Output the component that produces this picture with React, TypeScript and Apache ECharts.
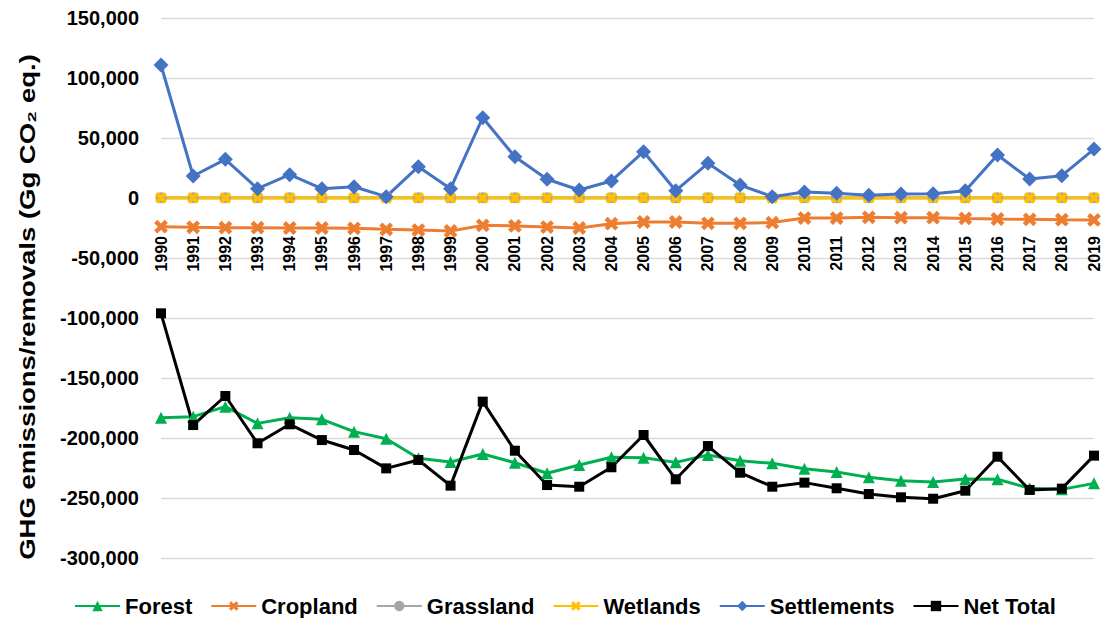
import React, { useEffect, useRef } from "react";
import * as echarts from "echarts";

const years: string[] = [
  "1990", "1991", "1992", "1993", "1994", "1995", "1996", "1997", "1998", "1999",
  "2000", "2001", "2002", "2003", "2004", "2005", "2006", "2007", "2008", "2009",
  "2010", "2011", "2012", "2013", "2014", "2015", "2016", "2017", "2018", "2019",
];

const forest: number[] = [
  -183100, -182200, -173900, -187800, -183100, -184400, -194700, -200600, -216900, -220000,
  -213300, -220600, -229400, -222500, -216100, -216400, -220300, -214200, -218900, -221100,
  -225600, -228300, -232800, -235600, -236700, -234200, -234400, -241900, -242800, -237800,
];

const cropland: number[] = [
  -23900, -24400, -24700, -24700, -25000, -25000, -25300, -26100, -26700, -27500,
  -22800, -23300, -24200, -25000, -21400, -20000, -20000, -21100, -21100, -20500,
  -16700, -16700, -16100, -16400, -16400, -17000, -17500, -17800, -18100, -18300,
];

const grassland: number[] = [
  300, 300, 300, 300, 300, 300, 300, 300, 300, 300,
  300, 300, 300, 300, 300, 300, 300, 300, 300, 300,
  300, 300, 300, 300, 300, 300, 300, 300, 300, 300,
];

const wetlands: number[] = [
  100, 100, 100, 100, 100, 100, 100, 100, 100, 100,
  100, 100, 100, 100, 100, 100, 100, 100, 100, 100,
  100, 100, 100, 100, 100, 100, 100, 100, 100, 100,
];

const settlements: number[] = [
  110800, 18300, 32200, 7800, 19400, 7800, 9400, 1100, 26100, 7800,
  66900, 34400, 15600, 6700, 14200, 38600, 6100, 28900, 10800, 1100,
  5000, 3900, 2200, 3300, 3600, 6100, 35800, 15800, 18600, 40800,
];

const netTotal: number[] = [
  -96100, -189200, -165000, -204400, -188600, -201700, -210000, -225300, -218300, -239700,
  -169700, -210600, -239200, -240600, -224400, -197500, -234400, -206700, -228900, -240600,
  -237200, -241900, -246700, -249400, -250600, -243900, -215600, -243300, -242200, -214700,
];

const yTitle = "GHG emissions/removals (Gg CO\u2082 eq.)";

const FONT = "'Liberation Sans', Arial, sans-serif";
const CROSS = "path://M3.5,0 L6.5,0 L6.5,3.5 L10,3.5 L10,6.5 L6.5,6.5 L6.5,10 L3.5,10 L3.5,6.5 L0,6.5 L0,3.5 L3.5,3.5 Z";

export default function App() {
  const ref = useRef<HTMLDivElement>(null);

  useEffect(() => {
    if (!ref.current) return;
    const chart = echarts.init(ref.current, undefined, { renderer: "svg" });
    const mk = (name: string, data: number[], color: string, symbol: string, symbolSize: number, extra: any = {}) => ({
      name,
      type: "line",
      data,
      symbol,
      symbolSize,
      showSymbol: true,
      lineStyle: { color, width: 3 },
      itemStyle: { color },
      z: 2,
      ...extra,
    });
    chart.setOption({
      animation: false,
      backgroundColor: "#ffffff",
      textStyle: { fontFamily: FONT },
      grid: { left: 161, right: 18, top: 18, bottom: 60, containLabel: false, outerBoundsMode: "none" },
      legend: {
        left: 69,
        top: 590,
        itemWidth: 45,
        itemHeight: 13,
        itemGap: 18,
        textStyle: { fontFamily: FONT, fontWeight: "bold", fontSize: 22, color: "#000" },
        data: ["Forest", "Cropland", "Grassland", "Wetlands", "Settlements", "Net Total"],
      },
      graphic: [
        {
          type: "text",
          x: 27,
          y: 307,
          rotation: Math.PI / 2,
          scaleX: 1.25,
          style: {
            text: yTitle,
            font: "bold 22px 'Liberation Sans', Arial, sans-serif",
            textAlign: "center",
            textVerticalAlign: "middle",
            fill: "#000",
          },
        },
      ],
      xAxis: {
        type: "category",
        data: years,
        boundaryGap: false,
        position: "bottom",
        offset: -360,
        axisLine: { show: false, onZero: false },
        axisTick: { show: false },
        axisLabel: {
          rotate: 90,
          margin: 38,
          interval: 0,
          fontFamily: FONT,
          fontWeight: "bold",
          fontSize: 16,
          color: "#000",
        },
        splitLine: { show: false },
      },
      yAxis: {
        type: "value",
        min: -300000,
        max: 150000,
        interval: 50000,
        axisLine: { show: false },
        axisTick: { show: false },
        axisLabel: {
          margin: 22,
          fontFamily: FONT,
          fontWeight: "bold",
          fontSize: 20,
          color: "#000",
          formatter: (v: number) => v.toLocaleString("en-US"),
        },
        splitLine: { lineStyle: { color: "#d9d9d9", width: 1.3 } },
      },
      series: [
        mk("Forest", forest, "#00B050", "triangle", 12),
        mk("Cropland", cropland, "#ED7D31", CROSS, 15, { symbolRotate: 45 }),
        mk("Grassland", grassland, "#A5A5A5", "circle", 11),
        mk("Wetlands", wetlands, "#FFC000", CROSS, 13, { symbolRotate: 45 }),
        mk("Settlements", settlements, "#4472C4", "diamond", 15),
        mk("Net Total", netTotal, "#000000", "rect", 10),
      ],
    });
    return () => chart.dispose();
  }, []);

  return (
    <div
      ref={ref}
      style={{ position: "fixed", left: 0, top: 0, width: 1112, height: 618, background: "#fff" }}
    />
  );
}
